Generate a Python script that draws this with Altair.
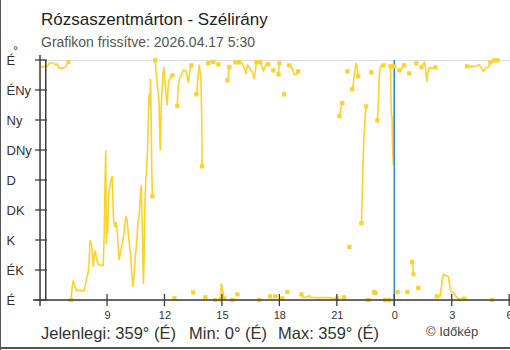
import altair as alt
import pandas as pd

TITLE = "Rózsaszentmárton - Szélirány"
SUBTITLE = "Grafikon frissítve: 2026.04.17 5:30"
FOOTER_PARTS = ["Jelenlegi: 359° (É)", "Min: 0° (É)", "Max: 359° (É)"]
CREDIT = "© Időkép"
UNIT = "°"

DIR_TICKS = [0, 45, 90, 135, 180, 225, 270, 315, 360]
DIR_LABELS = ["É", "ÉK", "K", "DK", "D", "DNy", "Ny", "ÉNy", "É"]
HOUR_TICKS = [9, 12, 15, 18, 21, 24, 27, 30]
MIDNIGHT = [24]
RANGE_END = ["05:48"]
START_HOUR = 5.5

TIMES = [
    "05:30", "05:51", "06:01", "06:10", "06:17", "06:24", "06:30", "06:41", "06:48", "06:55", "06:59",
    "07:07", "07:11", "07:14", "07:17", "07:23", "07:35", "07:48", "07:51", "07:56", "08:01",
    "08:04", "08:07", "08:12", "08:14", "08:17", "08:20", "08:23", "08:28", "08:33", "08:40",
    "08:48", "08:51", "08:54", "08:56", "08:58", "09:00", "09:02", "09:05", "09:09", "09:12",
    "09:16", "09:20", "09:24", "09:28", "09:32", "09:38", "09:42", "09:47", "09:53", "09:59",
    "10:03", "10:08", "10:13", "10:16", "10:19", "10:21", "10:24", "10:29", "10:32", "10:37",
    "10:41", "10:45", "10:47", "10:50", "10:52", "10:54", "10:56", "10:58", "11:01", "11:04",
    "11:07", "11:09", "11:12", "11:15", "11:16", "11:18", "11:20", "11:22",
    "11:31", "11:34", "11:40", "11:43", "11:45", "11:47", "11:50", "11:53", "11:56", "11:59",
    "12:02", "12:06", "12:09", "12:11", "12:14", "12:20", "12:25",
    "12:31",
    "12:40", "12:43", "12:48", "12:53", "12:58", "13:07", "13:12", "13:15", "13:18", "13:21", "13:24",
    "13:30",
    "13:40", "13:42", "13:44", "13:47", "13:49", "13:51", "13:54", "13:57", "13:58",
    "14:08",
    "14:17", "14:26", "14:33",
    "14:39", "14:49",
    "14:56", "14:58", "15:01", "15:05", "15:07",
    "15:17", "15:20", "15:23",
    "15:33", "15:42", "15:48",
    "15:54", "16:03", "16:08", "16:12", "16:15", "16:20", "16:25", "16:31", "16:37", "16:41", "16:45", "16:48",
    "16:57",
    "17:00", "17:04", "17:10", "17:15", "17:20", "17:25",
    "17:31", "17:41", "17:47",
    "17:57", "18:00",
    "18:09", "18:15", "18:25",
    "18:31", "18:36", "18:40", "18:43", "18:47", "18:52", "18:55", "18:59",
    "19:09", "19:12", "19:23", "19:34", "19:38", "19:52", "20:07", "20:23", "20:39", "20:48", "20:54", "21:01",
    "21:08", "21:10", "21:12", "21:15", "21:17",
    "21:23", "21:33", "21:39",
    "21:48", "21:51", "21:54", "21:57", "22:00", "22:03", "22:05", "22:07",
    "22:17", "22:19", "22:22", "22:25", "22:27", "22:29", "22:32",
    "22:39", "22:48",
    "22:57", "23:01",
    "23:07", "23:09", "23:11", "23:13", "23:16", "23:26",
    "23:32", "23:43",
    "23:48", "23:49", "23:51", "23:53", "23:54", "23:56", "23:57", "23:59", "00:00",
    "00:10",
    "00:16", "00:23", "00:31",
    "00:41", "00:47",
    "00:56", "00:59", "01:00",
    "01:09", "01:15",
    "01:25", "01:28", "01:34", "01:38", "01:40", "01:42", "01:44", "01:47", "01:51", "01:57", "02:03", "02:09",
    "02:13", "02:23", "02:28", "02:31", "02:34", "02:39", "02:49", "02:52", "02:56", "02:59",
    "03:06", "03:10", "03:16", "03:19", "03:26", "03:36", "03:40",
    "03:48", "03:57", "04:07", "04:18", "04:26", "04:32", "04:39", "04:46", "04:55", "05:01",
    "05:07",
    "05:13", "05:24",
]

DIRS = [
    350, 350, 355.5, 355.5, 353.5, 353.5, 348.5, 347.5, 348.5, 353, 357,
    0, 19.5, 29.5, 23.5, 15, 14, 14, 19.5, 32, 42,
    59.5, 89.5, 82, 69.5, 49.5, 66, 74.5, 59.5, 53.5, 52,
    52, 97, 182, 224.5, 84.5, 127, 99.5, 157, 172, 179.5,
    186, 124.5, 109.5, 117, 102, 60, 72, 82, 99.5, 125.5,
    119.5, 92, 72, 52, 32, 19.5, 32, 67, 82, 114.5,
    129.5, 159.5, 172, 122, 62, 24.5, 62, 132, 177, 194.5,
    224.5, 267, 309.5, 292, 332, 287, 199.5, 155.5,
    359.5, 339.5, 312, 297, 249.5, 224.5, 294.5, 317, 342, 349.5,
    322, 302, 292, 317, 329.5, 334.5, 337,
    2.5,
    291, 319.5, 333, 337, 344.5, 343.5, 332, 326, 338, 347, 352,
    11.5,
    308.5, 314.5, 329.5, 344.5, 353, 344.5, 337, 267, 200.5,
    4,
    355.5, 358, 357,
    0, 353.5,
    1, 25, 18, 6, 2.5,
    329.5, 334.5, 349.5,
    0, 356.5, 8.5,
    356.5, 355.5, 350, 345, 339, 352.5, 350, 345, 340, 331, 345, 356.5,
    0,
    357, 352, 344, 350, 353.5, 353.5,
    5.5, 344.5, 5.5,
    338.5, 355,
    2.5, 308.5, 12,
    352, 350, 347, 343, 338, 338.5, 341, 343,
    8.5, 4, 4, 6.5, 4, 3.5, 3.5, 3.5, 3.5, 2, 3, 2.5,
    276, 279, 285, 292, 295.5,
    4, 343, 79.5,
    316, 322, 334.5, 344.5, 356, 349, 343, 335.5,
    115.5, 144.5, 202, 242, 259.5, 277, 290.5,
    0, 341.5,
    12, 10.5,
    269.5, 282, 308, 334.5, 349.5, 352,
    0, 0,
    350.5, 325, 277, 275, 240, 215, 202.5, 275, 350.5,
    12,
    344.5, 347, 352,
    12, 340,
    57, 47, 38.5,
    355, 18,
    349, 352, 356.5, 349, 335, 327.5, 337, 346, 349, 347.5, 348.5, 349,
    5.5, 5.5, 20, 33, 38, 37, 35.5, 27, 15, 12,
    10.5, 7.5, 4, 2, 2, 3, 2,
    350.5, 350.5, 350.5, 351, 353, 349, 343.5, 348, 349.5, 356.5,
    0,
    359.5, 359.5,
]
assert len(TIMES) == len(DIRS), (len(TIMES), len(DIRS))


def hours(s):
    h, m = s.split(":")
    v = int(h) + int(m) / 60
    return v + 24 if v < START_HOUR else v


rows = []
seg = 0
for i, (t, d) in enumerate(zip(TIMES, DIRS)):
    if i > 0 and abs(d - DIRS[i - 1]) > 180:
        seg += 1
    rows.append({"t": hours(t), "dir": d, "seg": seg})
df = pd.DataFrame(rows)
first = df.groupby("seg")["t"].transform("min") == df["t"]
last = df.groupby("seg")["t"].transform("max") == df["t"]
df["end"] = (first | last) & (df.index > 0)

W, H = 470, 240
AX = "#3d3d3d"
YEL = "#fdd22e"
FONT = "Liberation Sans"

xs = alt.Scale(domain=[START_HOUR, START_HOUR + 470 / 19.15], nice=False, zero=False)
ys = alt.Scale(domain=[0, 360], nice=False, zero=False)
label_expr = "[" + ",".join("'%s'" % s for s in DIR_LABELS) + "][round(datum.value/45)]"
x_axis = alt.Axis(values=HOUR_TICKS, labelExpr="datum.value % 24", domain=False, ticks=False,
                  tickSize=0, grid=False, title=None, labelPadding=9, labelFont=FONT,
                  labelFontSize=11, labelColor="#333333", labelFlush=False, labelOverlap=False)
y_axis = alt.Axis(values=DIR_TICKS, labelExpr=label_expr, domain=False, ticks=False, tickSize=0,
                  grid=False, title=None, labelPadding=34, labelAlign="left", labelFont=FONT,
                  labelFontSize=13, labelColor="#333333", labelFlush=False, labelOverlap=False)

X = alt.X("t:Q", scale=xs, axis=x_axis)
Y = alt.Y("dir:Q", scale=ys, axis=y_axis)

line = alt.Chart(df).mark_line(color=YEL, strokeWidth=1.6, interpolate="linear").encode(
    x=X, y=Y, detail="seg:N")
pts = alt.Chart(df).transform_filter("datum.end").mark_square(
    color=YEL, size=18, opacity=1).encode(x=X, y=Y)

mid = alt.Chart(pd.DataFrame({"t": MIDNIGHT})).mark_rule(color="#2b8fd8", strokeWidth=1.5).encode(
    x=X, y=alt.value(0), y2=alt.value(246))
endrule = alt.Chart(pd.DataFrame({"t": [hours(s) for s in RANGE_END]})).mark_rule(
    color=AX, strokeWidth=1.5).encode(x=X, y=alt.value(0), y2=alt.value(240))

xticks = alt.Chart(pd.DataFrame({"t": HOUR_TICKS})).mark_rule(color=AX, strokeWidth=1.3).encode(
    x=X, y=alt.value(234), y2=alt.value(246))
yticks = alt.Chart(pd.DataFrame({"dir": DIR_TICKS})).mark_rule(color=AX, strokeWidth=1.3).encode(
    y=Y, x=alt.value(-5), x2=alt.value(7))

one = pd.DataFrame({"k": [0]})
xline = alt.Chart(one).mark_rule(color=AX, strokeWidth=1.5).encode(
    x=alt.value(-7), x2=alt.value(W), y=alt.value(H))
yline = alt.Chart(one).mark_rule(color=AX, strokeWidth=1.5).encode(
    x=alt.value(0), y=alt.value(-5), y2=alt.value(246))
frame_l = alt.Chart(one).mark_rule(color="#555555", strokeWidth=2).encode(
    x=alt.value(-40), y=alt.value(-60), y2=alt.value(290))
frame_b = alt.Chart(one).mark_rule(color="#555555", strokeWidth=2).encode(
    x=alt.value(-40), x2=alt.value(W), y=alt.value(288))


def txt(s, x, y, size, color, align="left"):
    return alt.Chart(pd.DataFrame({"s": [s]})).mark_text(
        align=align, baseline="alphabetic", font=FONT, fontSize=size, color=color).encode(
        text="s:N", x=alt.value(x), y=alt.value(y))


texts = [
    txt(TITLE, 1, -35, 17, "#222222"),
    txt(SUBTITLE, 1, -13, 14, "#555555"),
    txt(FOOTER_PARTS[0], 1, 279, 16.5, "#333333"),
    txt(FOOTER_PARTS[1], 149, 279, 16.5, "#333333"),
    txt(FOOTER_PARTS[2], 238, 279, 16.5, "#333333"),
    txt(CREDIT, 386, 276, 13, "#444444"),
    txt(UNIT, -27, -5, 13, "#333333"),
]

chart = alt.layer(
    frame_l, frame_b, line, mid, pts, endrule, xline, yline, xticks, yticks, *texts
).properties(
    width=W, height=H, autosize="none",
    padding={"left": 40, "top": 60, "right": 0, "bottom": 50},
).configure_view(stroke=None).configure(background="white")

chart.save("out.html", embed_options={"renderer": "svg", "actions": False})
